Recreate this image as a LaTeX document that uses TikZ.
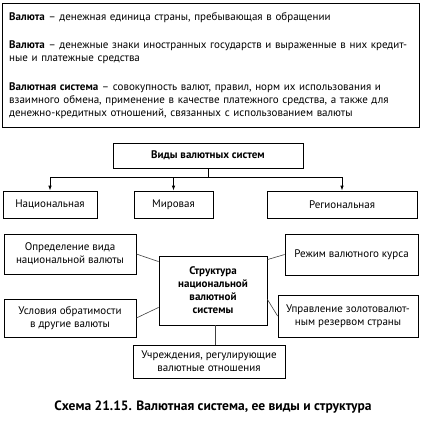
\documentclass[tikz,border=0pt]{standalone}
\usepackage{fontspec}
\setmainfont{PT Sans}
\usetikzlibrary{arrows.meta,positioning}

\begin{document}
\begin{tikzpicture}[
    x=1pt, y=-1pt,
    every node/.style={font=\fontsize{11}{13}\selectfont, inner sep=0pt},
    box/.style={rectangle, draw=black, line width=0.8pt, align=center},
    link/.style={draw=black!75, line width=0.6pt},
    arr/.style={-{Latex[length=5pt, width=3.5pt]}, line width=0.8pt}
]
\useasboundingbox (0,0) rectangle (426,421);

% Definitions
\node[box, minimum width=417pt, minimum height=124pt] (defs) at (210.5,65) {};
\node[anchor=north west, text width=410pt, align=left] (deftext) at (9,12.5) {
    \textbf{Валюта} -- денежная единица страны, пребывающая в обращении\\[15pt]
    \textbf{Валюта} -- денежные знаки иностранных государств и выраженные в них кредит-\\
    ные и платежные средства\\[16pt]
    \textbf{Валютная система} -- совокупность валют, правил, норм их использования и\\
    взаимного обмена, применение в качестве платежного средства, а также для\\
    денежно-кредитных отношений, связанных с использованием валюты
};

% Kinds of currency systems
\node[box, minimum width=190pt, minimum height=25pt, font=\fontsize{11}{13}\selectfont\bfseries] (vidy) at (208,155.5) {Виды валютных систем};
\node[box, minimum width=94pt, minimum height=27pt] (nac) at (50,204.5) {Национальная};
\node[box, minimum width=79pt, minimum height=27pt] (mir) at (173.5,204.5) {Мировая};
\node[box, minimum width=150pt, minimum height=27pt] (reg) at (342,204.5) {Региональная};

\coordinate (bus) at ([yshift=-9pt]vidy.south);
\draw[line width=0.8pt] (vidy.south) -- (bus);
\draw[line width=0.8pt] (bus -| nac.north) -- (bus -| reg.north);
\draw[arr] (bus -| nac.north) -- (nac.north);
\draw[arr] (bus -| mir.north) -- (mir.north);
\draw[arr] (bus -| reg.north) -- (reg.north);

% Structure of the national system
\node[box, minimum width=108pt, minimum height=69pt, font=\fontsize{11}{13}\selectfont\bfseries] (struct) at (213,290.5) {Структура\\национальной\\валютной\\системы};
\node[box, minimum width=132pt, minimum height=40pt] (opr) at (70,254) {Определение вида\\национальной валюты};
\node[box, minimum width=133pt, minimum height=41pt] (rezh) at (351.5,254.5) {Режим валютного курса};
\node[box, minimum width=132pt, minimum height=38pt] (usl) at (70,318) {Условия обратимости\\в другие валюты};
\node[box, minimum width=140pt, minimum height=42pt] (upr) at (348,316) {Управление золотовалют-\\ным резервом страны};
\node[box, minimum width=152pt, minimum height=33pt] (uchr) at (209,361.5) {Учреждения, регулирующие\\валютные отношения};

\draw[link] (opr.east) -- ([yshift=-6pt]struct.north west);
\draw[link] (rezh.west) -- ([yshift=-4pt]struct.north east);
\draw[link] (usl.east) -- ([yshift=18pt]struct.south west);
\draw[link] (upr.west) -- ([yshift=26pt]struct.south east);
\draw[link] ([xshift=2pt]struct.south) -- ([xshift=2pt]struct.south |- uchr.north);

% Caption
\node[font=\fontsize{13.5}{15}\selectfont\bfseries] (caption) at (213,407) {Схема 21.15. Валютная система, ее виды и структура};

\end{tikzpicture}
\end{document}
